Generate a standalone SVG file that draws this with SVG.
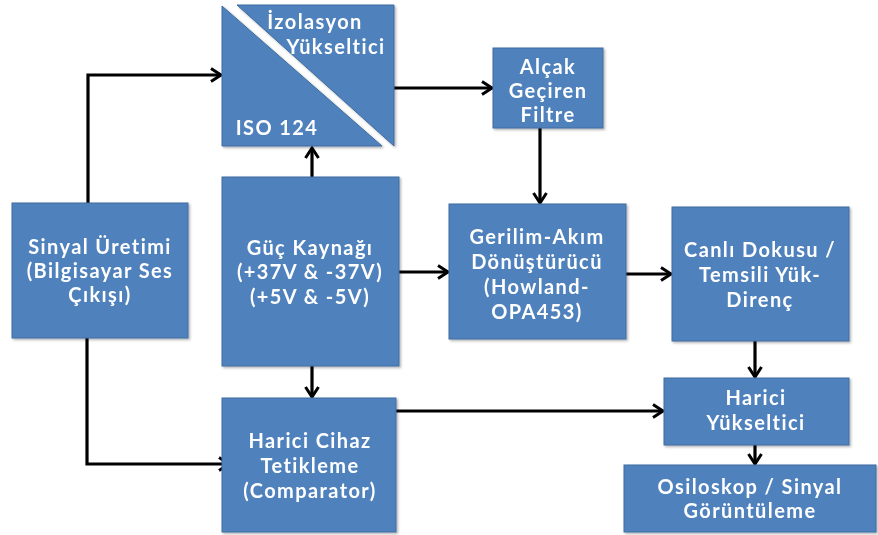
<svg xmlns="http://www.w3.org/2000/svg" width="878" height="535" viewBox="0 0 878 535">
<style>
.box{fill:#4F81BD;stroke:#3E6D9F;stroke-width:1}
.t{fill:#FFFFFF;font-family:Lato,"Open Sans","Liberation Sans",sans-serif;font-weight:bold;font-size:20px;letter-spacing:1.4px;text-anchor:middle}
.c{fill:none;stroke:#000;stroke-width:3.2;marker-end:url(#ah)}
</style>
<defs>
<marker id="ah" viewBox="0 0 14 16" refX="12" refY="8" markerWidth="14" markerHeight="16" markerUnits="userSpaceOnUse" orient="auto">
<path d="M2,1.5 L12,8 L2,14.5" fill="none" stroke="#000" stroke-width="3"/>
</marker>
<filter id="sh" x="-5%" y="-5%" width="115%" height="115%">
<feDropShadow dx="1.5" dy="1.5" stdDeviation="1" flood-color="#000" flood-opacity="0.3"/>
</filter>
</defs>
<g id="connectors">
<polyline class="c" points="88,203 88,75 221,75"/>
<polyline class="c" points="87,338 87,464 229,464"/>
<line class="c" x1="312" y1="177" x2="312" y2="148"/>
<line class="c" x1="399" y1="272" x2="448" y2="272"/>
<line class="c" x1="312" y1="366" x2="312" y2="397"/>
<line class="c" x1="390" y1="88" x2="492" y2="88"/>
<line class="c" x1="540" y1="128" x2="540" y2="203"/>
<line class="c" x1="626" y1="274" x2="671" y2="274"/>
<line class="c" x1="755" y1="341" x2="755" y2="377"/>
<line class="c" x1="396" y1="411" x2="663" y2="411"/>
<line class="c" x1="755" y1="445" x2="755" y2="464"/>
</g>
<g id="iso" filter="url(#sh)">
<polygon class="box" points="237,5 394,5 394,146"/>
<polygon class="box" points="222,6 222,146 382,146"/>
<text class="t" x="315" y="29">İzolasyon</text>
<text class="t" x="336" y="54">Yükseltici</text>
<text class="t" x="277" y="135">ISO 124</text>
</g>
<g id="filtre" filter="url(#sh)">
<rect class="box" x="493" y="48" width="110" height="80"/>
<text class="t" x="548" y="74">Alçak</text>
<text class="t" x="548" y="98">Geçiren</text>
<text class="t" x="548" y="122">Filtre</text>
</g>
<g id="sinyal" filter="url(#sh)">
<rect class="box" x="12" y="203" width="176" height="135"/>
<text class="t" x="100" y="254">Sinyal Üretimi</text>
<text class="t" x="100" y="278">(Bilgisayar Ses</text>
<text class="t" x="100" y="302">Çıkışı)</text>
</g>
<g id="guc" filter="url(#sh)">
<rect class="box" x="222" y="177" width="177" height="189"/>
<text class="t" x="310" y="255">Güç Kaynağı</text>
<text class="t" x="310" y="279">(+37V &amp; -37V)</text>
<text class="t" x="310" y="304">(+5V &amp; -5V)</text>
</g>
<g id="gerilim" filter="url(#sh)">
<rect class="box" x="449" y="204" width="177" height="135"/>
<text class="t" x="537" y="244">Gerilim-Akım</text>
<text class="t" x="537" y="269">Dönüştürücü</text>
<text class="t" x="537" y="294">(Howland-</text>
<text class="t" x="537" y="319">OPA453)</text>
</g>
<g id="canli" filter="url(#sh)">
<rect class="box" x="672" y="207" width="177" height="134"/>
<text class="t" x="760" y="257">Canlı Dokusu /</text>
<text class="t" x="760" y="282">Temsili Yük-</text>
<text class="t" x="760" y="307">Direnç</text>
</g>
<g id="hariciyuk" filter="url(#sh)">
<rect class="box" x="664" y="378" width="185" height="67"/>
<text class="t" x="756" y="405">Harici</text>
<text class="t" x="756" y="430">Yükseltici</text>
</g>
<g id="osiloskop" filter="url(#sh)">
<rect class="box" x="624" y="465" width="252" height="67"/>
<text class="t" x="750" y="494">Osiloskop / Sinyal</text>
<text class="t" x="750" y="518">Görüntüleme</text>
</g>
<g id="haricicihaz" filter="url(#sh)">
<rect class="box" x="222" y="398" width="174" height="134"/>
<text class="t" x="310" y="448">Harici Cihaz</text>
<text class="t" x="310" y="473">Tetikleme</text>
<text class="t" x="310" y="498">(Comparator)</text>
</g>
</svg>
